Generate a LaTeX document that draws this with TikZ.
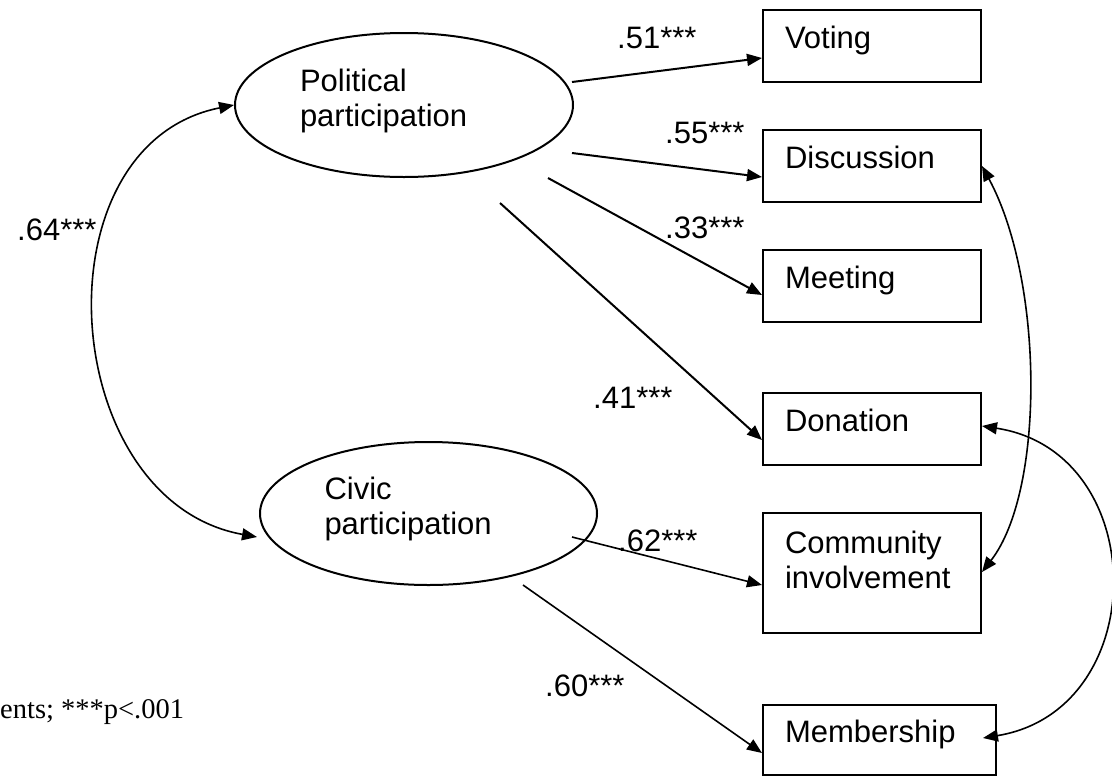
\documentclass[tikz,border=0pt]{standalone}
\usepackage{fontspec}
\setmainfont{Liberation Sans}
\newfontfamily\notefont{Liberation Serif}
\usetikzlibrary{arrows.meta,shapes.geometric,calc}

\begin{document}
\begin{tikzpicture}[x=1pt,y=-1pt,
  every node/.style={font=\fontsize{31}{35}\selectfont},
  latent/.style={draw, ellipse, line width=2pt, inner sep=0pt,
    text width=208pt, align=left, text height=22.5pt, text depth=50pt},
  obs/.style={draw, rectangle, line width=2pt, inner xsep=22pt, inner ysep=0pt,
    text width=174pt, align=left, minimum height=72pt,
    text height=22.5pt, text depth=17.5pt},
  loading/.style={line width=2pt, -{Triangle[length=15pt,width=12pt]}},
  loadingthin/.style={line width=1.6pt, -{Triangle[length=15pt,width=12pt]}},
  cov/.style={line width=1.6pt, {Triangle[length=15pt,width=12pt]}-{Triangle[length=15pt,width=12pt]}},
  coef/.style={anchor=base west, inner sep=0pt}]

\useasboundingbox (0,0) rectangle (1112,777);

% latent factors
\node[latent, minimum width=338pt, minimum height=144pt] (pol) at (404,105) {Political\\participation};
\node[latent, minimum width=337pt, minimum height=143pt] (civ) at (428.5,513.5) {Civic\\participation};

% indicators
\node[obs] (vot) at (872,45.5) {Voting};
\node[obs] (dis) at (872,166) {Discussion};
\node[obs] (mee) at (872,286) {Meeting};
\node[obs] (don) at (872,429) {Donation};
\node[obs, minimum height=120pt, text depth=62.5pt] (com) at (872,573) {Community\\involvement};
\node[obs, text width=189pt, minimum height=70pt] (mem) at (879.5,740) {Membership};

% loading paths start a little away from the ellipses
\coordinate (s1) at (572,82);
\coordinate (s2) at (572,153);
\coordinate (s3) at (548,178);
\coordinate (s4) at (500,203);
\coordinate (s5) at (572,537);
\coordinate (s6) at (523,585);

\draw[loading] (s1) -- ($(vot.west)+(0,12.5)$);
\draw[loading] (s2) -- ($(dis.west)+(0,11)$);
\draw[loading] (s3) -- ($(mee.west)+(0,9)$);
\draw[loading] (s4) -- ($(don.west)+(0,11)$);
\draw[loadingthin] (s5) -- ($(com.west)+(0,12)$);
\draw[loadingthin] (s6) -- ($(mem.west)+(0,13)$);

% factor correlation
\coordinate (civin) at ($(civ.west)+(-2,23.5)$);
\draw[cov] (pol.west) .. controls +(-200,40) and +(-200,-36) .. (civin);

% residual covariances
\draw[cov] (dis.east) .. controls +(62,115) and +(63,-81) .. ($(com.east)+(0,-1)$);
\coordinate (memin) at ($(mem.east)+(-14,-2)$);
\draw[cov] ($(don.east)+(0,-3)$) .. controls +(170,26) and +(170,-28) .. (memin);

% coefficients
\node[coef] (c51) at (617,48) {.51***};
\node[coef] (c55) at (665,143) {.55***};
\node[coef] (c33) at (665,238) {.33***};
\node[coef] (c41) at (593,408) {.41***};
\node[coef] (c62) at (618,551) {.62***};
\node[coef] (c60) at (545,696) {.60***};
\node[coef] (c64) at (17,240) {.64***};

% note
\node[anchor=base west, inner sep=0pt, font=\notefont\fontsize{28.5}{31}\selectfont] (note) at (0,718) {ents; ***p<.001};

\end{tikzpicture}
\end{document}
